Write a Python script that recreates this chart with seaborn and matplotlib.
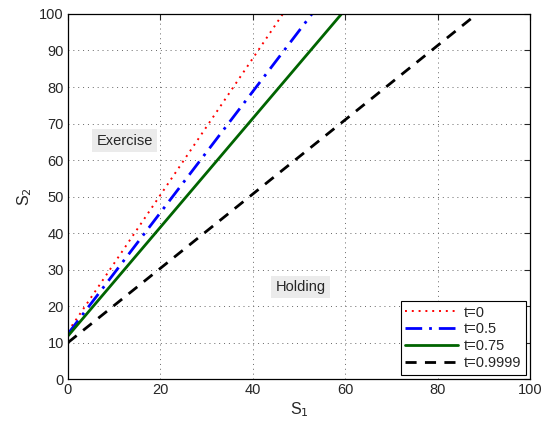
import matplotlib
matplotlib.use("Agg")
import matplotlib.pyplot as plt
import seaborn as sns
import pandas as pd

labels = ["t=0", "t=0.5", "t=0.75", "t=0.9999"]
s1_t0 = [0, 46.5]
s2_t0 = [13.0, 100]
s1_t05 = [0, 52.8]
s2_t05 = [12.4, 100]
s1_t075 = [0, 59.2]
s2_t075 = [11.8, 100]
s1_t1 = [0, 88.5]
s2_t1 = [10.0, 100]

x_ticks = [0, 20, 40, 60, 80, 100]
y_ticks = list(range(0, 101, 10))

colors = ["#ff0000", "#0000ff", "#006400", "#000000"]
styles = [(0, (1, 2.5)), (0, (6, 2.5, 1, 2.5)), "-", (0, (4, 3))]
widths = [1.4, 2, 2, 2]

sns.set_style("white")
plt.rcParams["font.family"] = ["Liberation Sans", "DejaVu Sans"]
plt.rcParams["font.size"] = 10.5

fig = plt.figure(figsize=(5.5, 4.24), dpi=100)
ax = fig.add_axes([0.1236, 0.106, 0.84, 0.861])

xs = [s1_t0, s1_t05, s1_t075, s1_t1]
ys = [s2_t0, s2_t05, s2_t075, s2_t1]
for lab, x, y, c, ls, lw in zip(labels, xs, ys, colors, styles, widths):
    df = pd.DataFrame({"S1": x, "S2": y})
    sns.lineplot(data=df, x="S1", y="S2", ax=ax, color=c, linestyle=ls,
                 linewidth=lw, label=lab)

ax.set_xlim(0, 100)
ax.set_ylim(0, 100)
ax.set_xticks(x_ticks)
ax.set_yticks(y_ticks)
ax.grid(True, linestyle=(0, (1, 4)), color="#666666", linewidth=0.7)
ax.tick_params(direction="in", length=4, top=True, right=True, labelsize=10.5,
               width=0.8, pad=3)
for sp in ax.spines.values():
    sp.set_color("black")
    sp.set_linewidth(0.9)
ax.set_xlabel("S$_1$", fontsize=11.5, labelpad=2)
ax.set_ylabel("S$_2$", fontsize=11.5, labelpad=4)

bbox = dict(boxstyle="square,pad=0.3", facecolor="#ebebeb", edgecolor="none")
ax.text(12.3, 65.3, "Exercise", ha="center", va="center", fontsize=10.5, bbox=bbox)
ax.text(50.3, 25.2, "Holding", ha="center", va="center", fontsize=10.5, bbox=bbox)

leg = ax.legend(loc="lower right", frameon=True, fancybox=False, fontsize=10.5,
                borderpad=0.3, labelspacing=0.2, handlelength=3.6,
                handletextpad=0.4, borderaxespad=0.3)
leg.get_frame().set_edgecolor("black")
leg.get_frame().set_linewidth(0.8)
leg.get_frame().set_alpha(1)

fig.savefig("out.png", dpi=100)
